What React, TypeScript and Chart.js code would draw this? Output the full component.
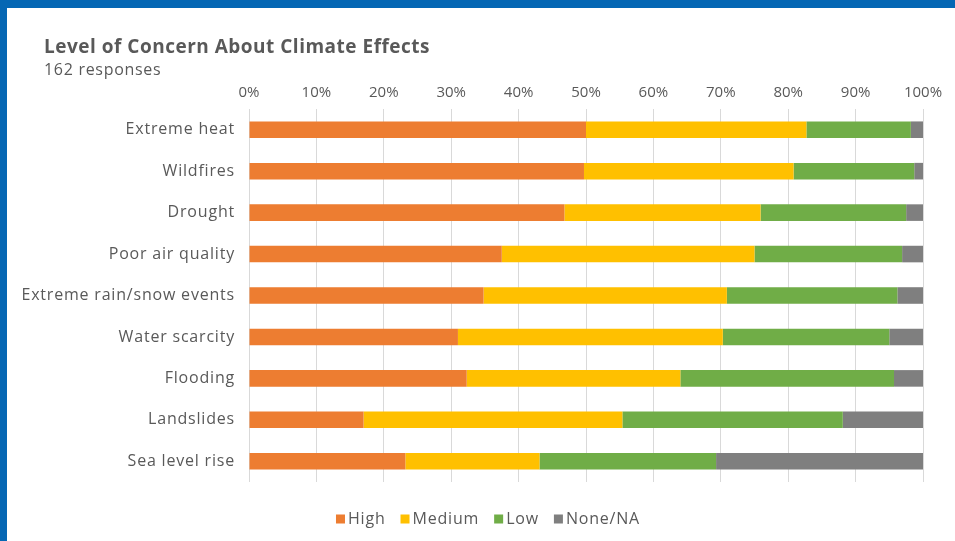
import React, { useEffect, useRef } from "react";
import { Chart, registerables } from "chart.js";

Chart.register(...registerables);

const categories = [
  "Extreme heat",
  "Wildfires",
  "Drought",
  "Poor air quality",
  "Extreme rain/snow events",
  "Water scarcity",
  "Flooding",
  "Landslides",
  "Sea level rise",
];
const high = [50.0, 49.7, 46.8, 37.5, 34.8, 31.0, 32.3, 17.0, 23.2];
const medium = [32.7, 31.1, 29.1, 37.5, 36.1, 39.3, 31.7, 38.4, 19.9];
const low = [15.5, 17.9, 21.6, 21.9, 25.3, 24.7, 31.7, 32.7, 26.2];
const none = [1.8, 1.3, 2.5, 3.1, 3.8, 5.0, 4.3, 11.9, 30.7];
const seriesNames = ["High", "Medium", "Low", "None/NA"];
const seriesColors = ["#ED7D31", "#FFC000", "#70AD47", "#7F7F7F"];
const title = "Level of Concern About Climate Effects";
const subtitle = "162 responses";

const FONT = '"Open Sans", sans-serif';
const TEXT = "#595959";

const framePlugin = {
  id: "frame",
  beforeDraw(chart: any) {
    const { ctx, width, height } = chart;
    ctx.save();
    ctx.fillStyle = "#ffffff";
    ctx.fillRect(0, 0, width, height);
    ctx.restore();
  },
  afterDraw(chart: any) {
    const { ctx, width, height } = chart;
    ctx.save();
    ctx.fillStyle = "#0567B4";
    ctx.fillRect(0, 0, width, 8);
    ctx.fillRect(0, 0, 7, height);
    // title
    ctx.fillStyle = TEXT;
    ctx.textBaseline = "alphabetic";
    ctx.textAlign = "left";
    ctx.letterSpacing = "0.5px";
    ctx.font = `bold 19px ${FONT}`;
    ctx.fillText(title, 44, 53);
    ctx.letterSpacing = "0.7px";
    ctx.font = `16px ${FONT}`;
    ctx.fillText(subtitle, 44, 75);
    // y category labels, placed with the y scale
    const yScale = chart.scales.y;
    ctx.letterSpacing = "0.8px";
    ctx.textAlign = "right";
    ctx.textBaseline = "middle";
    ctx.font = `16px ${FONT}`;
    chart.data.labels.forEach((lab: string, i: number) => {
      ctx.fillText(lab, chart.chartArea.left - 14, yScale.getPixelForValue(i));
    });
    // legend
    ctx.textAlign = "left";
    const box = 9;
    const gapBox = 3;
    const gapItem = 15;
    const ds = chart.data.datasets;
    const widths = ds.map((d: any) => box + gapBox + ctx.measureText(d.label).width);
    const total = widths.reduce((a: number, b: number) => a + b, 0) + gapItem * (ds.length - 1);
    let x = 488 - total / 2;
    const y = 519;
    ds.forEach((d: any, i: number) => {
      ctx.fillStyle = d.backgroundColor;
      ctx.fillRect(x, y - box / 2, box, box);
      ctx.fillStyle = TEXT;
      ctx.fillText(d.label, x + box + gapBox, y);
      x += widths[i] + gapItem;
    });
    ctx.restore();
  },
};

export default function App() {
  const ref = useRef<HTMLCanvasElement | null>(null);
  useEffect(() => {
    if (!ref.current) return;
    const values = [high, medium, low, none];
    const chart = new Chart(ref.current, {
      type: "bar",
      data: {
        labels: categories,
        datasets: seriesNames.map((name, i) => ({
          label: name,
          data: values[i],
          backgroundColor: seriesColors[i],
          borderWidth: 0,
          categoryPercentage: 0.4,
          barPercentage: 1,
        })),
      },
      options: {
        indexAxis: "y",
        responsive: false,
        animation: false,
        layout: { padding: { left: 7, right: 32, top: 0, bottom: 59 } },
        scales: {
          x: {
            stacked: true,
            position: "top",
            min: 0,
            max: 100,
            ticks: {
              stepSize: 10,
              callback: (v: any) => v + "%",
              color: TEXT,
              font: { family: FONT, size: 15 },
              padding: 7,
            },
            grid: { color: "#D9D9D9", drawTicks: false },
            border: { display: false },
            afterFit: (s: any) => {
              s.height = 109;
            },
          },
          y: {
            stacked: true,
            ticks: { display: false },
            grid: { display: false, drawTicks: false },
            border: { display: false },
            afterFit: (s: any) => {
              s.width = 242;
            },
          },
        },
        plugins: {
          legend: { display: false },
          tooltip: { enabled: false },
          title: { display: false },
        },
      },
      plugins: [framePlugin],
    } as any);
    return () => chart.destroy();
  }, []);
  return (
    <div style={{ position: "fixed", left: 0, top: 0, width: 955, height: 541, background: "#fff" }}>
      <canvas ref={ref} width={955} height={541} style={{ width: 955, height: 541, display: "block" }} />
    </div>
  );
}
